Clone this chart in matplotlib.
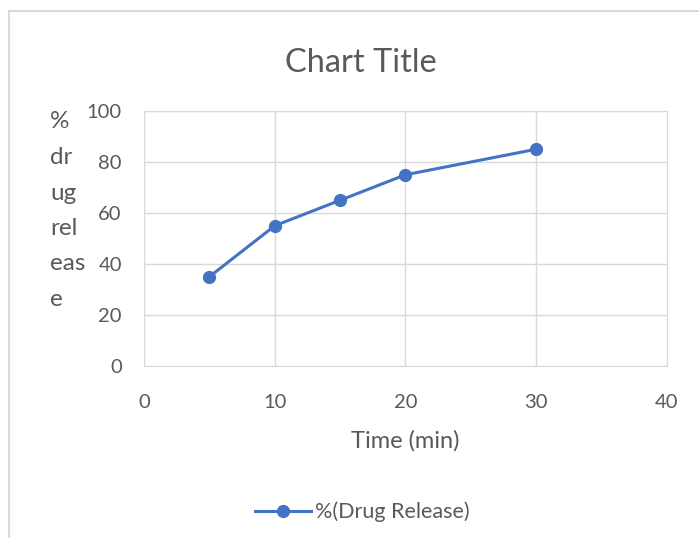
import matplotlib.pyplot as plt
from matplotlib.patches import Rectangle

# data
time_min = [5, 10, 15, 20, 30]
drug_release = [35, 55, 65, 75, 85]
x_ticks = [0, 10, 20, 30, 40]
y_ticks = [0, 20, 40, 60, 80, 100]
ylabel_parts = ["%", "dr", "ug", "rel", "eas", "e"]

txt = "#595959"
grid = "#D9D9D9"
blue = "#4472C4"

plt.rcParams['font.family'] = ['Lato', 'DejaVu Sans']

fig = plt.figure(figsize=(6.99, 5.38), dpi=100)
ax = fig.add_axes((144 / 699, 1 - 366 / 538, 523 / 699, 255 / 538))

ax.plot(time_min, drug_release, color=blue, lw=2.2, marker='o', ms=8.5,
        label='%(Drug Release)')

ax.set_xlim(0, 40)
ax.set_ylim(0, 100)
ax.set_xticks(x_ticks)
ax.set_yticks(y_ticks)
ax.grid(True, color=grid, lw=1)
ax.set_axisbelow(True)
for s in ax.spines.values():
    s.set_color(grid)
ax.tick_params(length=0, labelsize=14.5, labelcolor=txt)
ax.tick_params(axis='x', pad=20)
ax.tick_params(axis='y', pad=16)

fig.text(405 / 699, 1 - 441 / 538, 'Time (min)', fontsize=17, color=txt,
         ha='center', va='center')
fig.text(361 / 699, 1 - 63 / 538, 'Chart Title', fontsize=23.5, color=txt,
         ha='center', va='center')

# wrapped y label, one line at a time like Excel does it
for i, part in enumerate(ylabel_parts):
    fig.text(50 / 699, 1 - (122 + i * 35.5) / 538, part, fontsize=17.5,
             color=txt, ha='left', va='center')

leg = fig.legend(loc='center', bbox_to_anchor=(362 / 699, 1 - 512 / 538),
                 frameon=False, fontsize=15.5, handlelength=2.6,
                 handletextpad=0.2)
for t in leg.get_texts():
    t.set_color(txt)

# chart area border (runs off the right/bottom edge)
fig.patches.append(Rectangle((9 / 699, -0.1), 1.2, 1 - 11 / 538 + 0.1,
                             transform=fig.transFigure, fill=False,
                             edgecolor=grid, lw=1.5))

fig.savefig('out.png', dpi=100)
